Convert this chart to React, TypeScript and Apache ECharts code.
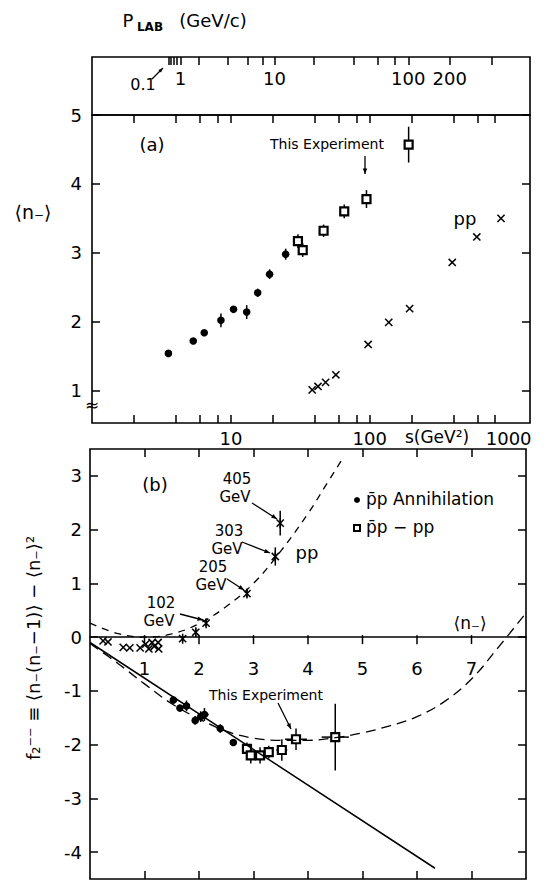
import React, { useEffect, useRef } from 'react';
import * as echarts from 'echarts';

const FONT = 'DejaVu Sans';
const PROTON_MASS = 0.938;

// ---- top strip: P_LAB (GeV/c) ticks ----
const pLabTicks = [0.2, 0.4, 0.6, 0.8, 1, 2, 4, 6, 8, 10, 20, 40, 60, 80, 100, 200, 400];
const pLabLabels = [1, 10, 100, 200];

// ---- panel (a): s axis ----
const sRange = [1, 1425];
const sTicks = [2, 4, 6, 8, 10, 20, 40, 60, 80, 100, 200, 400, 600, 800];
const sLabels = [10, 100, 1000];
const nRange = [0.53, 5];
const nTicks = [1, 2, 3, 4, 5];

// [s (GeV^2), <n->, error]
const annihilationA = [
  [3.55, 1.54, 0], [5.36, 1.72, 0], [6.43, 1.84, 0], [8.48, 2.02, 0.1], [10.45, 2.18, 0],
  [13.0, 2.14, 0.1], [15.6, 2.42, 0.06], [19.0, 2.69, 0.07], [24.8, 2.98, 0.08],
];
const experimentA = [
  [30.4, 3.17, 0.1], [32.9, 3.04, 0.1], [46.5, 3.32, 0.09], [65.5, 3.6, 0.1], [94.7, 3.78, 0.13], [190.5, 4.57, 0.26],
];
const ppA = [
  [38.5, 1.01], [42.4, 1.06], [48.1, 1.12], [57.0, 1.23], [97.3, 1.67], [137, 1.99], [193.6, 2.19],
  [392.5, 2.86], [590, 3.23], [881, 3.5],
];

// ---- panel (b) ----
const nbRange = [0, 8];
const nbTicks = [1, 2, 3, 4, 5, 6, 7];
const f2Range = [-4.5, 3.5];
const f2Ticks = [-4, -3, -2, -1, 0, 1, 2, 3];

// [<n->, f2, yErr, xErr]
const annihilationB = [
  [1.53, -1.17, 0.07, 0], [1.65, -1.32, 0.06, 0], [1.77, -1.28, 0.1, 0], [1.93, -1.55, 0.08, 0],
  [2.03, -1.48, 0.1, 0], [2.1, -1.44, 0.12, 0.08], [2.39, -1.7, 0.08, 0], [2.63, -1.96, 0.06, 0],
];
const experimentB = [
  [2.88, -2.08, 0.12, 0.08], [2.95, -2.2, 0.15, 0.08], [3.12, -2.2, 0.15, 0.08], [3.28, -2.14, 0.12, 0.08],
  [3.52, -2.1, 0.2, 0.1], [3.78, -1.9, 0.2, 0.2], [4.5, -1.86, 0.62, 0.25],
];
const ppCrossB = [
  [0.24, -0.07], [0.33, -0.09], [0.61, -0.19], [0.73, -0.2], [0.92, -0.2], [1.02, -0.13],
  [1.08, -0.22], [1.14, -0.1], [1.18, -0.17], [1.25, -0.1], [1.26, -0.22],
];
const ppStarB = [
  [1.7, -0.03, 0.05], [1.94, 0.09, 0.08], [2.13, 0.26, 0.06], [2.88, 0.81, 0.07], [3.4, 1.5, 0.17], [3.49, 2.12, 0.23],
];
const ppCurve = [
  [0, 0.26], [0.5, 0.07], [1.0, 0.0], [1.5, 0.06], [2.0, 0.25], [2.5, 0.57], [3.0, 1.0],
  [3.5, 1.6], [4.0, 2.3], [4.3, 2.78], [4.62, 3.3],
];
const pbarCurve = [
  [0, -0.12], [0.5, -0.48], [1.0, -0.87], [1.5, -1.24], [2.0, -1.52], [2.5, -1.75], [3.0, -1.88],
  [3.5, -1.92], [4.0, -1.92], [4.5, -1.87], [5.0, -1.78], [5.5, -1.65], [6.0, -1.48], [6.5, -1.2],
  [7.0, -0.78], [7.5, -0.18], [8.0, 0.45],
];
const solidLine = [[0, -0.1], [6.33, -4.3]];

const sFromP = (p: number) => 2 * PROTON_MASS * PROTON_MASS + 2 * PROTON_MASS * Math.sqrt(p * p + PROTON_MASS * PROTON_MASS);
const lg = (v: number) => Math.log10(v);

const marker = (kind: string) => (params: any, api: any) => {
  const x = api.value(0);
  const y = api.value(1);
  const ey = Number(api.value(2)) || 0;
  const ex = Number(api.value(3)) || 0;
  const c = api.coord([x, y]);
  const st = { stroke: '#000', lineWidth: 1.5 };
  const ch: any[] = [];
  if (ey > 0) {
    const a = api.coord([x, y + ey]);
    const b = api.coord([x, y - ey]);
    ch.push({ type: 'line', shape: { x1: c[0], y1: a[1], x2: c[0], y2: b[1] }, style: st });
  }
  if (ex > 0) {
    const a = api.coord([x - ex, y]);
    const b = api.coord([x + ex, y]);
    ch.push({ type: 'line', shape: { x1: a[0], y1: c[1], x2: b[0], y2: c[1] }, style: st });
  }
  const d = 3.6;
  if (kind === 'dot') {
    ch.push({ type: 'circle', shape: { cx: c[0], cy: c[1], r: 3.8 }, style: { fill: '#000' } });
  } else if (kind === 'square') {
    ch.push({ type: 'rect', shape: { x: c[0] - 4, y: c[1] - 4, width: 8, height: 8 }, style: { fill: '#fff', stroke: '#000', lineWidth: 2.2 } });
  } else if (kind === 'cross' || kind === 'star') {
    ch.push({ type: 'line', shape: { x1: c[0] - d, y1: c[1] - d, x2: c[0] + d, y2: c[1] + d }, style: st });
    ch.push({ type: 'line', shape: { x1: c[0] - d, y1: c[1] + d, x2: c[0] + d, y2: c[1] - d }, style: st });
    if (kind === 'star') {
      ch.push({ type: 'line', shape: { x1: c[0], y1: c[1] - 5, x2: c[0], y2: c[1] + 5 }, style: st });
    }
  }
  return { type: 'group', children: ch };
};

// ticks + labels of the <n-> axis drawn on the zero line
const zeroAxisTick = (params: any, api: any) => {
  const v = api.value(0);
  const c = api.coord([v, 0]);
  return {
    type: 'group',
    children: [
      { type: 'line', shape: { x1: c[0], y1: c[1] - 2, x2: c[0], y2: c[1] + 7 }, style: { stroke: '#000', lineWidth: 1.5 } },
      { type: 'text', x: c[0], y: c[1] + 31, style: { text: String(v), fontSize: 18, fontFamily: FONT, fill: '#000', align: 'center', verticalAlign: 'middle' } },
    ],
  };
};

const arrow = (x1: number, y1: number, x2: number, y2: number, head = 6) => {
  const ang = Math.atan2(y2 - y1, x2 - x1);
  const p1 = [x2 - head * Math.cos(ang - 0.38), y2 - head * Math.sin(ang - 0.38)];
  const p2 = [x2 - head * Math.cos(ang + 0.38), y2 - head * Math.sin(ang + 0.38)];
  return [
    { type: 'line', silent: true, shape: { x1, y1, x2, y2 }, style: { stroke: '#000', lineWidth: 1.3 } },
    { type: 'polygon', silent: true, shape: { points: [[x2, y2], p1, p2] }, style: { fill: '#000' } },
  ];
};

const txt = (x: number, y: number, text: string, size = 17, extra: any = {}) => ({
  type: 'text', silent: true, x, y,
  style: { text, fontSize: size, fontFamily: FONT, fill: '#000', align: 'center', verticalAlign: 'middle', ...extra },
});

const tickAxisBase = (extra: any) => ({
  type: 'value',
  axisLine: { show: false, onZero: false },
  splitLine: { show: false },
  axisTick: { show: true, inside: true, length: 8, lineStyle: { color: '#000', width: 1.5 } },
  axisLabel: { show: false },
  ...extra,
});

export default function App() {
  const ref = useRef<HTMLDivElement>(null);
  useEffect(() => {
    if (!ref.current) return;
    const chart = echarts.init(ref.current, null, { renderer: 'svg' });

    const pTickVals = pLabTicks.map((p) => lg(sFromP(p)));
    const pLabelVals = pLabLabels.map((p) => lg(sFromP(p)));
    const pLabelFmt = (v: number) => {
      let best = 0;
      pLabelVals.forEach((lv, i) => { if (Math.abs(lv - v) < Math.abs(pLabelVals[best] - v)) best = i; });
      return String(pLabLabels[best]);
    };
    const labelStyle = { color: '#000', fontSize: 18, fontFamily: FONT };
    const border = { show: true, borderColor: '#000', borderWidth: 1.6, backgroundColor: 'transparent' };
    const tickLine = { color: '#000', width: 1.5 };

    const option: any = {
      animation: false,
      backgroundColor: '#fff',
      textStyle: { fontFamily: FONT },
      grid: [
        { left: 92, top: 57, width: 438, height: 58, containLabel: false, outerBoundsMode: 'none', ...border },
        { left: 92, top: 115, width: 438, height: 308, containLabel: false, outerBoundsMode: 'none', ...border },
        { left: 90, top: 449, width: 436, height: 430, containLabel: false, outerBoundsMode: 'none', ...border },
      ],
      xAxis: [
        tickAxisBase({
          gridIndex: 0, position: 'top', min: lg(sRange[0]), max: lg(sRange[1]),
          axisTick: { show: true, inside: true, length: 8, customValues: pTickVals, lineStyle: tickLine },
          axisLabel: { show: true, inside: true, margin: 12, customValues: pLabelVals, formatter: pLabelFmt, ...labelStyle },
        }),
        tickAxisBase({
          gridIndex: 1, position: 'bottom', min: lg(sRange[0]), max: lg(sRange[1]),
          axisTick: { show: true, inside: true, length: 8, customValues: sTicks.map(lg), lineStyle: tickLine },
          axisLabel: { show: true, margin: 6, customValues: sLabels.map(lg), formatter: (v: number) => String(Math.round(Math.pow(10, v))), ...labelStyle },
        }),
        tickAxisBase({
          gridIndex: 1, position: 'top', min: lg(sRange[0]), max: lg(sRange[1]),
          axisTick: { show: true, inside: true, length: 8, customValues: sTicks.map(lg), lineStyle: tickLine },
        }),
        {
          type: 'value', gridIndex: 2, position: 'bottom', min: nbRange[0], max: nbRange[1],
          axisLine: { show: true, onZero: true, lineStyle: { color: '#000', width: 1.5 } },
          splitLine: { show: false },
          axisTick: { show: false },
          axisLabel: { show: false },
        },
        tickAxisBase({
          gridIndex: 2, position: 'bottom', min: nbRange[0], max: nbRange[1],
          axisTick: { show: true, inside: true, length: 8, customValues: nbTicks, lineStyle: tickLine },
        }),
        tickAxisBase({
          gridIndex: 2, position: 'top', min: nbRange[0], max: nbRange[1],
          axisTick: { show: true, inside: true, length: 8, customValues: nbTicks, lineStyle: tickLine },
        }),
      ],
      yAxis: [
        { type: 'value', gridIndex: 0, min: 0, max: 1, show: false },
        tickAxisBase({
          gridIndex: 1, position: 'left', min: nRange[0], max: nRange[1],
          axisTick: { show: true, inside: true, length: 8, customValues: nTicks, lineStyle: tickLine },
          axisLabel: { show: true, margin: 10, customValues: nTicks, ...labelStyle },
        }),
        tickAxisBase({
          gridIndex: 1, position: 'right', min: nRange[0], max: nRange[1],
          axisTick: { show: true, inside: true, length: 8, customValues: nTicks, lineStyle: tickLine },
        }),
        tickAxisBase({
          gridIndex: 2, position: 'left', min: f2Range[0], max: f2Range[1],
          axisTick: { show: true, inside: true, length: 8, customValues: f2Ticks, lineStyle: tickLine },
          axisLabel: { show: true, margin: 8, customValues: f2Ticks, formatter: (v: number) => String(v), ...labelStyle },
        }),
        tickAxisBase({
          gridIndex: 2, position: 'right', min: f2Range[0], max: f2Range[1],
          axisTick: { show: true, inside: true, length: 8, customValues: f2Ticks, lineStyle: tickLine },
        }),
      ],
      series: [
        { type: 'custom', name: 'annA', xAxisIndex: 1, yAxisIndex: 1, renderItem: marker('dot'), data: annihilationA.map(([s, n, e]) => [lg(s), n, e, 0]) },
        { type: 'custom', name: 'expA', xAxisIndex: 1, yAxisIndex: 1, renderItem: marker('square'), data: experimentA.map(([s, n, e]) => [lg(s), n, e, 0]) },
        { type: 'custom', name: 'ppA', xAxisIndex: 1, yAxisIndex: 1, renderItem: marker('cross'), data: ppA.map(([s, n]) => [lg(s), n, 0, 0]) },
        { type: 'custom', name: 'zeroAxis', xAxisIndex: 3, yAxisIndex: 3, renderItem: zeroAxisTick, data: nbTicks.map((v) => [v, 0]) },
        { type: 'line', name: 'ppCurve', xAxisIndex: 3, yAxisIndex: 3, data: ppCurve, smooth: 0.4, showSymbol: false, lineStyle: { color: '#000', width: 1.3, type: [7, 6] } },
        { type: 'line', name: 'pbarCurve', xAxisIndex: 3, yAxisIndex: 3, data: pbarCurve, smooth: 0.4, showSymbol: false, lineStyle: { color: '#000', width: 1.3, type: [10, 6] } },
        { type: 'line', name: 'solid', xAxisIndex: 3, yAxisIndex: 3, data: solidLine, showSymbol: false, lineStyle: { color: '#000', width: 1.5 } },
        { type: 'custom', name: 'ppCrossB', xAxisIndex: 3, yAxisIndex: 3, renderItem: marker('cross'), data: ppCrossB.map(([a, b]) => [a, b, 0, 0]) },
        { type: 'custom', name: 'ppStarB', xAxisIndex: 3, yAxisIndex: 3, renderItem: marker('star'), data: ppStarB.map(([a, b, e]) => [a, b, e, 0]) },
        { type: 'custom', name: 'annB', xAxisIndex: 3, yAxisIndex: 3, renderItem: marker('dot'), data: annihilationB },
        { type: 'custom', name: 'expB', xAxisIndex: 3, yAxisIndex: 3, renderItem: marker('square'), data: experimentB },
      ],
      graphic: [
        // top strip title
        txt(128, 20, 'P', 18),
        txt(150, 27, 'LAB', 12, { fontWeight: 'bold' }),
        txt(213, 20, '(GeV/c)', 18),
        txt(143, 84, '0.1', 16),
        ...arrow(152, 79, 163, 68, 5),
        // panel (a)
        txt(152, 144, '(a)', 18),
        txt(327, 144, 'This Experiment', 14),
        ...arrow(365, 156, 365, 174, 6),
        txt(465, 218, 'pp', 18),
        txt(437, 437, 's(GeV²)', 17),
        txt(33, 212, '⟨n₋⟩', 19),
        txt(92, 405, '≈', 17),
        // panel (b)
        txt(155, 484, '(b)', 18),
        txt(237, 479, '405', 15), txt(235, 497, 'GeV', 15), ...arrow(252, 503, 277, 519),
        txt(229, 531, '303', 15), txt(227, 549, 'GeV', 15), ...arrow(242, 542, 270, 553),
        txt(213, 567, '205', 15), txt(211, 585, 'GeV', 15), ...arrow(227, 579, 244, 590),
        txt(161, 603, '102', 15), txt(159, 621, 'GeV', 15), ...arrow(180, 614, 203, 620),
        txt(307, 552, 'pp', 18),
        { type: 'circle', silent: true, shape: { cx: 357, cy: 500, r: 3 }, style: { fill: '#000' } },
        txt(366, 499, 'p̄p Annihilation', 17, { align: 'left' }),
        { type: 'rect', silent: true, shape: { x: 354, y: 525, width: 6, height: 6 }, style: { fill: '#fff', stroke: '#000', lineWidth: 2 } },
        txt(366, 527, 'p̄p − pp', 17, { align: 'left' }),
        txt(470, 623, '⟨n₋⟩', 17),
        txt(266, 695, 'This Experiment', 14),
        ...arrow(278, 703, 291, 729, 6),
        { ...txt(33, 648, 'f₂⁻⁻ ≡ ⟨n₋(n₋−1)⟩ − ⟨n₋⟩²', 18), rotation: Math.PI / 2 },
      ],
    };
    chart.setOption(option);
    return () => chart.dispose();
  }, []);
  return <div ref={ref} style={{ position: 'absolute', left: 0, top: 0, width: 549, height: 881, background: '#fff' }} />;
}
